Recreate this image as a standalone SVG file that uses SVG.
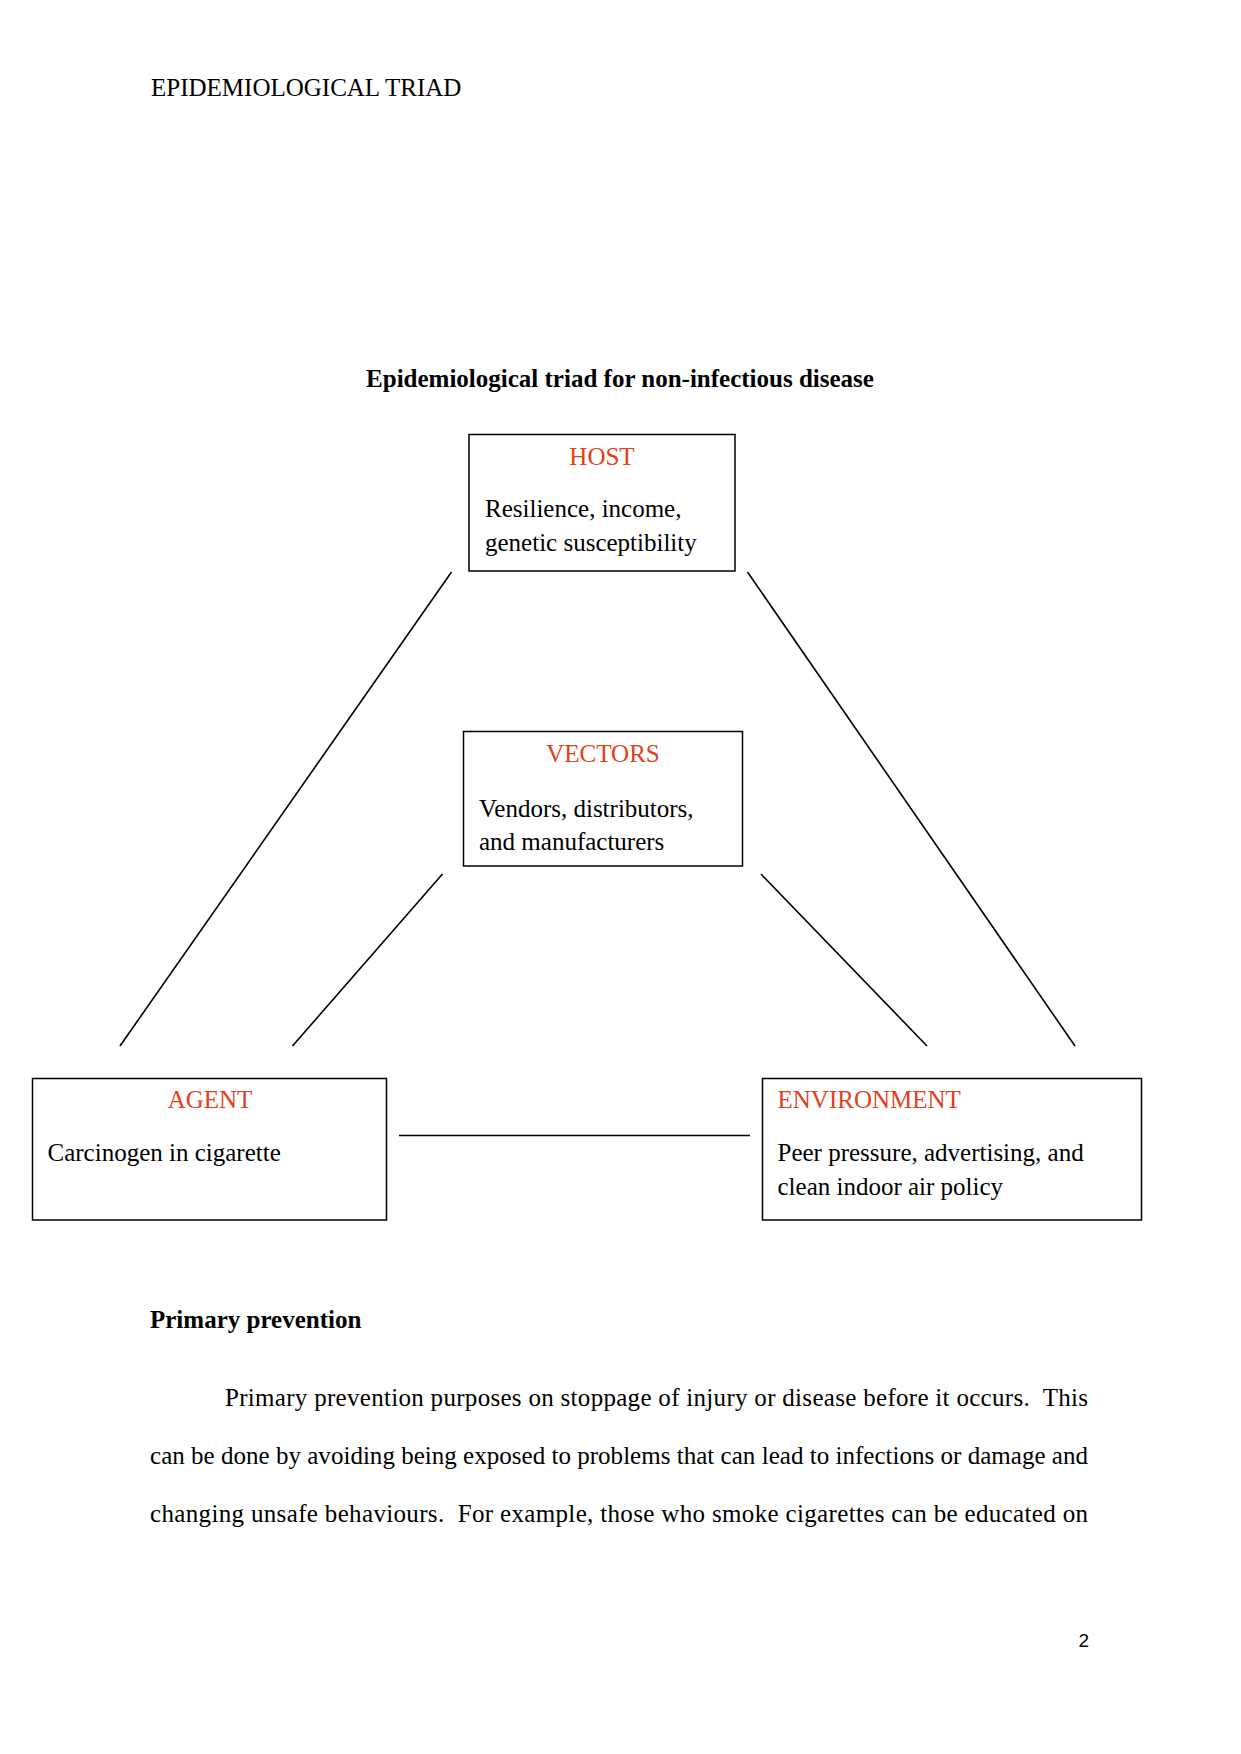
<svg xmlns="http://www.w3.org/2000/svg" width="1241" height="1754" viewBox="0 0 1241 1754">
<style>
text{font-family:"Liberation Serif","Times New Roman",serif;font-size:25px;fill:#000}
.lbl{fill:#e2401b}
.b{font-weight:bold}
.box{fill:#fff;stroke:#000;stroke-width:1.5}
.conn line{stroke:#000;stroke-width:1.6}
.pg{font-family:"Liberation Sans",Arial,sans-serif;font-size:19px}
</style>
<rect width="1241" height="1754" fill="#fff"/>
<text x="151" y="96">EPIDEMIOLOGICAL TRIAD</text>
<text class="b" x="620" y="387" text-anchor="middle">Epidemiological triad for non-infectious disease</text>
<g class="conn">
<line x1="451.5" y1="572" x2="120" y2="1046"/>
<line x1="747.5" y1="572" x2="1075" y2="1046"/>
<line x1="442.5" y1="874" x2="292.5" y2="1046"/>
<line x1="761" y1="874" x2="927" y2="1046"/>
<line x1="399" y1="1135.5" x2="750" y2="1135.5"/>
</g>
<g id="host">
<rect class="box" x="469" y="434.5" width="266" height="136.5"/>
<text class="lbl" x="602" y="465" text-anchor="middle">HOST</text>
<text x="485" y="517">Resilience, income,</text>
<text x="485" y="551">genetic susceptibility</text>
</g>
<g id="vectors">
<rect class="box" x="463.5" y="731.5" width="279" height="134.5"/>
<text class="lbl" x="603" y="762" text-anchor="middle">VECTORS</text>
<text x="479" y="817">Vendors, distributors,</text>
<text x="479" y="850">and manufacturers</text>
</g>
<g id="agent">
<rect class="box" x="32.5" y="1078.5" width="354" height="141.5"/>
<text class="lbl" x="210" y="1108" text-anchor="middle">AGENT</text>
<text x="47.5" y="1161">Carcinogen in cigarette</text>
</g>
<g id="environment">
<rect class="box" x="762.5" y="1078.5" width="379" height="141.5"/>
<text class="lbl" x="777.5" y="1108">ENVIRONMENT</text>
<text x="777.5" y="1161">Peer pressure, advertising, and</text>
<text x="777.5" y="1195">clean indoor air policy</text>
</g>
<text class="b" x="150" y="1328">Primary prevention</text>
<text x="225" y="1406" textLength="863" lengthAdjust="spacing" xml:space="preserve">Primary prevention purposes on stoppage of injury or disease before it occurs.  This</text>
<text x="150" y="1464" textLength="938" lengthAdjust="spacing">can be done by avoiding being exposed to problems that can lead to infections or damage and</text>
<text x="150" y="1522" textLength="938" lengthAdjust="spacing" xml:space="preserve">changing unsafe behaviours.  For example, those who smoke cigarettes can be educated on</text>
<text class="pg" x="1089" y="1647" text-anchor="end">2</text>
</svg>
